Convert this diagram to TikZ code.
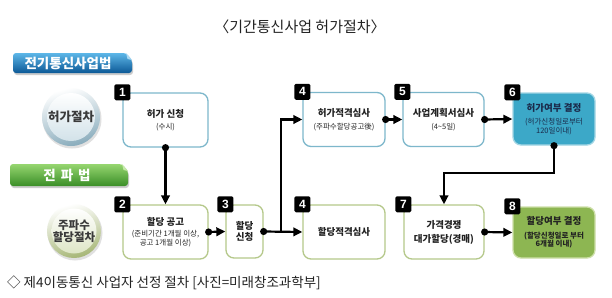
\documentclass[tikz,border=0pt]{standalone}
\usepackage{fontspec}
\setmainfont{Noto Sans CJK KR}
\newfontfamily\numfont{Liberation Sans}
\usetikzlibrary{arrows.meta}
\definecolor{topline}{HTML}{7DB7CB}
\definecolor{botline}{HTML}{B5C88A}
\definecolor{sixfill}{HTML}{3CA8C8}
\definecolor{sixline}{HTML}{A3D6E4}
\definecolor{eightfill}{HTML}{8DB652}
\definecolor{eightline}{HTML}{CDDFA8}
\definecolor{navy}{HTML}{1B2B4B}
\definecolor{bnA}{HTML}{5DB7E8}
\definecolor{bnB}{HTML}{1A7CC3}
\definecolor{bnC}{HTML}{0C5896}
\definecolor{bnfold}{HTML}{A8D8F2}
\definecolor{gnA}{HTML}{96D670}
\definecolor{gnB}{HTML}{5BB23C}
\definecolor{gnC}{HTML}{3A8E27}
\definecolor{gnfold}{HTML}{C4E8A8}
\definecolor{txt}{HTML}{222222}
\definecolor{circtxt}{HTML}{3A3A3A}
\newcommand\bt[1]{{\bfseries\fontsize{9.5}{11}\selectfont #1}}
\newcommand\st[1]{{\fontsize{7.5}{8.5}\selectfont #1}}
\newcommand\sbt[1]{{\bfseries\fontsize{7.5}{8.5}\selectfont #1}}
\tikzset{
  boxA/.style={draw=topline, line width=1.3pt, rounded corners=8pt, fill=white,
    align=center, inner sep=1pt, text=txt, font=\fontsize{8}{8.5}\selectfont},
  boxB/.style={boxA, draw=botline},
  badge/.style={fill=black, text=white, minimum size=16pt, inner sep=0pt,
    rounded corners=1.5pt, font=\numfont\bfseries\fontsize{12}{12}\selectfont},
  flow/.style={line width=2.2pt, -{Triangle[length=9pt,width=8.5pt]}},
  flowd/.style={line width=2.2pt, {Circle[length=7pt]}-{Triangle[length=9pt,width=8.5pt]},
    shorten <=-3.5pt},
}
\begin{document}
\begin{tikzpicture}[x=1pt,y=-1pt]
\useasboundingbox (0,0) rectangle (612,297);
\fill[white] (0,0) rectangle (612,297);

% title
\node[font=\fontsize{15}{15}\selectfont, text=txt] (title) at (300,27) {〈기간통신사업 허가절차〉};

% banners
\fill[black!20, rounded corners=3pt] (14,55) -- (127,55) -- (133,62) -- (133,75) -- (14,75) -- cycle;
\shade[top color=bnA, middle color=bnB, bottom color=bnC, rounded corners=3pt]
  (13,53) -- (126,53) -- (132,60) -- (132,73) -- (13,73) -- cycle;
\fill[bnfold] (126,53) -- (127.5,59) -- (132,60) -- cycle;
\node[font=\bfseries\fontsize{13.5}{14}\selectfont, text=white] (law1) at (68,63) {전기통신사업법};

\fill[black!20, rounded corners=3pt] (11,166) -- (123,166) -- (129,173) -- (129,188) -- (11,188) -- cycle;
\shade[top color=gnA, middle color=gnB, bottom color=gnC, rounded corners=3pt]
  (10,164) -- (122,164) -- (128,171) -- (128,186) -- (10,186) -- cycle;
\fill[gnfold] (122,164) -- (123.5,170) -- (128,171) -- cycle;
\node[font=\bfseries\fontsize{13.5}{14}\selectfont, text=white] (law2) at (67,175) {전\hspace{5pt}파\hspace{5pt}법};

% circles
\fill[black!12] (72,119) circle (29.5);
\shade[top color=white, bottom color={rgb,255:red,137;green,172;blue,188}, shading angle=15] (71,117) circle (29);
\shade[top color=white, bottom color={rgb,255:red,210;green,226;blue,233}] (71,117) circle (24);
\node[font=\bfseries\fontsize{12.5}{13}\selectfont, text=circtxt] (c1) at (71,117) {허가절차};

\fill[black!12] (75,233) circle (27.5);
\shade[top color=white, bottom color={rgb,255:red,166;green,182;blue,118}, shading angle=15] (74,231) circle (27);
\shade[top color=white, bottom color={rgb,255:red,222;green,230;blue,198}] (74,231) circle (22.5);
\node[font=\bfseries\fontsize{11.5}{12.5}\selectfont, text=circtxt, align=center] (c2) at (74,231) {주파수\\할당절차};

% boxes top row
\node[boxA, minimum width=85pt, minimum height=54pt] (b1) at (165.5,120)
  {\bt{허가 신청}\\[4pt]\st{(수시)}};
\node[boxA, minimum width=82pt, minimum height=54pt] (b4a) at (344,119.5)
  {\bt{허가적격심사}\\[4pt]\st{(주파수할당공고後)}};
\node[boxA, minimum width=81pt, minimum height=54pt] (b5) at (443.5,119.5)
  {\bt{사업계획서심사}\\[4pt]\st{(4\textasciitilde5일)}};
\node[boxA, draw=sixline, fill=sixfill, text=navy, minimum width=82pt, minimum height=52pt] (b6) at (554,119)
  {\bt{허가여부 결정}\\[5pt]\st{(허가신청일로부터}\\\st{120일이내)}};

% boxes bottom row
\node[boxB, minimum width=85pt, minimum height=54pt] (b2) at (165.5,232)
  {\bt{할당 공고}\\[3pt]\st{(준비기간 1개월 이상,}\\\st{공고 1개월 이상)}};
\node[boxB, minimum width=37pt, minimum height=53pt] (b3) at (244.5,231.5)
  {\bt{할당}\\[1pt]\bt{신청}};
\node[boxB, minimum width=82pt, minimum height=54pt] (b4b) at (344,232)
  {\bt{할당적격심사}};
\node[boxB, minimum width=80pt, minimum height=54pt] (b7) at (444,232)
  {\bt{가격경쟁}\\[4pt]\bt{대가할당(경매)}};
\node[boxB, draw=eightline, fill=eightfill, minimum width=82pt, minimum height=51pt] (b8) at (554,232.5)
  {\bt{할당여부 결정}\\[5pt]\sbt{(할당신청일로 부터}\\\sbt{6개월 이내)}};

% badges
\node[badge] (n1) at (b1.north west) {1};
\node[badge] (n2) at (b2.north west) {2};
\node[badge] (n3) at (b3.north west) {3};
\node[badge] (n4a) at (b4a.north west) {4};
\node[badge] (n4b) at (b4b.north west) {4};
\node[badge] (n5) at (b5.north west) {5};
\node[badge] (n6) at (b6.north west) {6};
\node[badge] (n7) at (b7.north west) {7};
\node[badge] (n8) at (b8.north west) {8};

% connectors
\draw[flowd] (b1.south) -- (b2.north);
\draw[flowd] (b2.east) -- (b3.west);
\draw[flowd] (b3.east) -- (b4b.west);
\coordinate (j) at (281,232);
\draw[flow] (j) |- (b4a.west);
\draw[flowd] (b4a.east) -- (b5.west);
\draw[flowd] (b5.east) -- (b6.west);
\draw[flowd] (b6.south) -- ++(0,27) -| (b7.north);
\draw[flowd] (b7.east) -- (b8.west);

% caption
\node[anchor=west, font=\fontsize{13.5}{14}\selectfont, text=txt, inner sep=0pt] (cap) at (7,283)
  {◇ 제4이동통신 사업자 선정 절차 [사진=미래창조과학부]};
\end{tikzpicture}
\end{document}
